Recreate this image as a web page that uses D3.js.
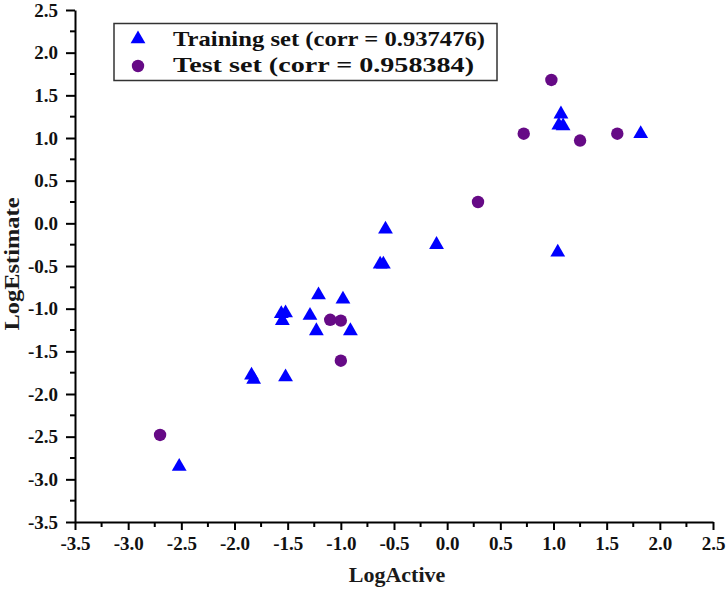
<!DOCTYPE html>
<html>
<head>
<meta charset="utf-8">
<script src="https://cdn.jsdelivr.net/npm/d3@7"></script>
<style>
  body { margin: 0; background: #fff; }
  text { font-family: "Liberation Serif", "Times New Roman", serif; font-weight: bold; }
</style>
</head>
<body>
<div id="chart"></div>
<script>
var trainX = [1.82, 1.07, 1.05, 1.09, 1.04, -0.10, -0.58, -0.63, -0.60, -1.21, -0.98, -1.56, -1.52, -1.55, -1.29, -1.23, -0.91, -1.84, -1.82, -1.52, -2.52];
var trainY = [1.05, 1.28, 1.15, 1.14, -0.34, -0.25, -0.07, -0.48, -0.48, -0.84, -0.89, -1.06, -1.05, -1.14, -1.08, -1.26, -1.26, -1.78, -1.83, -1.80, -2.85];

var testX = [-2.70, -1.10, -1.00, -1.00, 0.29, 0.98, 0.72, 1.25, 1.60];
var testY = [-2.48, -1.13, -1.14, -1.61, 0.25, 1.68, 1.05, 0.97, 1.05];

var tickValues = [-3.5, -3.0, -2.5, -2.0, -1.5, -1.0, -0.5, 0.0, 0.5, 1.0, 1.5, 2.0, 2.5];
var minorTicks = d3.range(-3.25, 2.5, 0.5);
var legendLabels = ["Training set (corr = 0.937476)", "Test set (corr = 0.958384)"];
var legendWidths = [312, 301];

var width = 726, height = 590;
var svg = d3.select("#chart").append("svg")
  .attr("width", width)
  .attr("height", height);

var x = d3.scaleLinear().domain([-3.5, 2.5]).range([75, 713]);
var y = d3.scaleLinear().domain([-3.5, 2.5]).range([522, 10]);

// plain hyphen for negatives, like the original
var fmt = function(d) { return d.toFixed(1); };

// x axis
var xAxis = svg.append("g").attr("transform", "translate(0," + y(-3.5) + ")");
xAxis.call(d3.axisBottom(x).tickValues(tickValues).tickFormat(fmt).tickSizeInner(8).tickSizeOuter(0).tickPadding(7));
xAxis.append("g").selectAll("line").data(minorTicks).enter().append("line")
  .attr("x1", function(d) { return x(d); }).attr("x2", function(d) { return x(d); })
  .attr("y1", 0).attr("y2", 5).attr("stroke", "#000").attr("stroke-width", 2);

// y axis
var yAxis = svg.append("g").attr("transform", "translate(" + x(-3.5) + ",0)");
yAxis.call(d3.axisLeft(y).tickValues(tickValues).tickFormat(fmt).tickSizeInner(9).tickSizeOuter(0).tickPadding(8));
yAxis.append("g").selectAll("line").data(minorTicks).enter().append("line")
  .attr("y1", function(d) { return y(d); }).attr("y2", function(d) { return y(d); })
  .attr("x1", 0).attr("x2", -5).attr("stroke", "#000").attr("stroke-width", 2);

svg.selectAll(".domain").attr("stroke", "#000").attr("stroke-width", 2);
svg.selectAll(".tick line").attr("stroke", "#000").attr("stroke-width", 2);
svg.selectAll(".tick text")
  .style("font-family", "'Liberation Serif', 'Times New Roman', serif")
  .style("font-weight", "bold")
  .style("font-size", "19px")
  .attr("fill", "#111");

// axis titles
svg.append("text")
  .attr("x", 397).attr("y", 582)
  .attr("text-anchor", "middle")
  .style("font-size", "22px")
  .attr("fill", "#1a1a1a")
  .text("LogActive");

svg.append("text")
  .attr("transform", "translate(19,264) rotate(-90)")
  .attr("text-anchor", "middle")
  .style("font-size", "22px")
  .attr("textLength", 133)
  .attr("lengthAdjust", "spacingAndGlyphs")
  .attr("fill", "#1a1a1a")
  .text("LogEstimate");

var triangle = d3.symbol().type(d3.symbolTriangle).size(95);

// training points
svg.selectAll(".train")
  .data(d3.range(trainX.length))
  .enter().append("path")
  .attr("class", "train")
  .attr("d", triangle)
  .attr("transform", function(i) { return "translate(" + x(trainX[i]) + "," + y(trainY[i]) + ")"; })
  .attr("fill", "#0000ff");

// test points
svg.selectAll(".test")
  .data(d3.range(testX.length))
  .enter().append("circle")
  .attr("class", "test")
  .attr("cx", function(i) { return x(testX[i]); })
  .attr("cy", function(i) { return y(testY[i]); })
  .attr("r", 6.2)
  .attr("fill", "#660a86");

// legend
var legend = svg.append("g");
legend.append("rect")
  .attr("x", 114).attr("y", 23.5)
  .attr("width", 383).attr("height", 57)
  .attr("fill", "#fff")
  .attr("stroke", "#333")
  .attr("stroke-width", 1.5);
legend.append("path")
  .attr("d", triangle)
  .attr("transform", "translate(138,39)")
  .attr("fill", "#0000ff");
legend.append("circle")
  .attr("cx", 138).attr("cy", 66)
  .attr("r", 6.2)
  .attr("fill", "#660a86");
legend.selectAll(".lab")
  .data(legendLabels)
  .enter().append("text")
  .attr("class", "lab")
  .attr("x", 173)
  .attr("y", function(d, i) { return 46 + i * 26; })
  .style("font-size", "22px")
  .attr("textLength", function(d, i) { return legendWidths[i]; })
  .attr("lengthAdjust", "spacingAndGlyphs")
  .attr("fill", "#111")
  .text(function(d) { return d; });
</script>
</body>
</html>
